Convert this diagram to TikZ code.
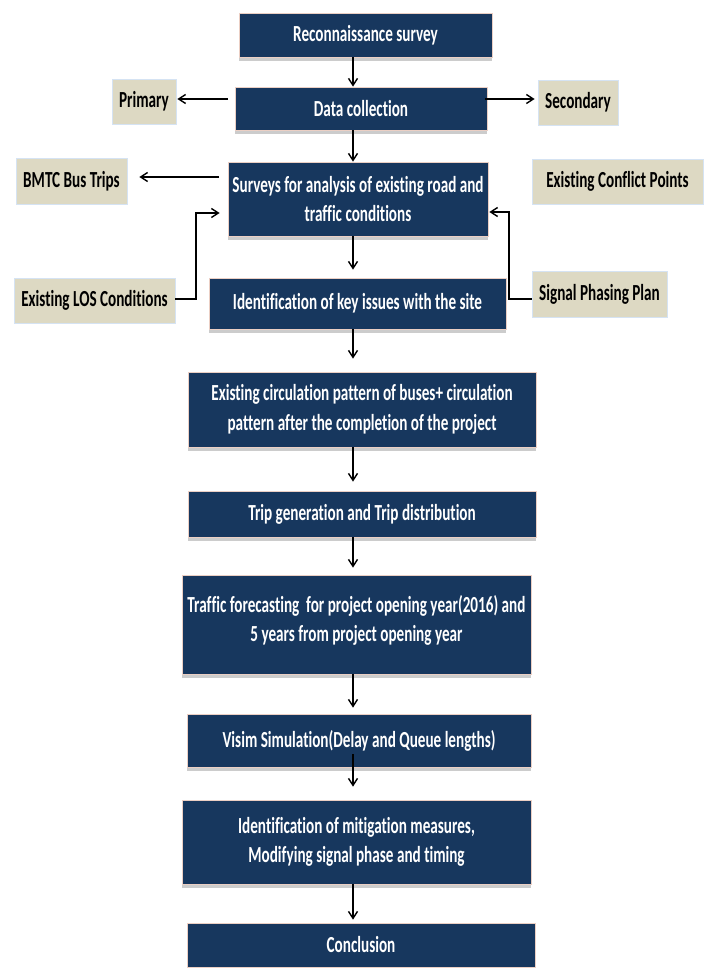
\documentclass[tikz,border=0pt]{standalone}
\usepackage{fontspec}
\newfontfamily\boxfont{Carlito}[FakeStretch=0.66,RawFeature={-liga}]
\usetikzlibrary{arrows.meta,shadows,calc}
\definecolor{navy}{HTML}{17375E}
\definecolor{beige}{HTML}{DDD9C3}
\definecolor{navyedge}{HTML}{EBCFC4}
\definecolor{beigeedge}{HTML}{D5E3F3}
\begin{document}
\begin{tikzpicture}[x=1pt,y=-1pt,
  boxfontstyle/.style={font=\boxfont\bfseries\fontsize{23}{29.5}\selectfont},
  navybox/.style={boxfontstyle, draw=navyedge, line width=0.7pt, fill=navy, text=white,
    inner sep=0pt, align=center,
    drop shadow={shadow xshift=0pt, shadow yshift=-4pt, fill=black!22, opacity=0.9}},
  navytext/.style={boxfontstyle, text=white, inner sep=0pt, align=center},
  beigebox/.style={boxfontstyle, draw=beigeedge, line width=0.7pt, fill=beige, text=black,
    inner sep=0pt, align=center},
  arr/.style={draw=black, line width=1.4pt,
    -{Straight Barb[length=7pt,width=9pt,line width=1.4pt]}}
  ]
\useasboundingbox[fill=white] (0,0) rectangle (708,968);

% main column
\node[navybox, minimum width=253pt, minimum height=44pt] (recon) at (365.5,35) {Reconnaissance survey};
\node[navybox, minimum width=252pt, minimum height=43pt] (dc) at (361,108.5) {Data collection};
\node[navybox, minimum width=260pt, minimum height=74pt] (surv) at (358,199) {Surveys for analysis of existing road and\\traffic conditions};
\node[navybox, minimum width=297pt, minimum height=51pt] (ident) at (357.5,303.5) {Identification of key issues with the site};
\node[navybox, minimum width=348pt, minimum height=75pt] (circ) at (362,409.5) {Existing circulation pattern of buses+ circulation\\pattern after the completion of the project};
\node[navybox, minimum width=348pt, minimum height=46pt] (trip) at (362,514) {Trip generation and Trip distribution};
\node[navybox, minimum width=349pt, minimum height=99pt] (traf) at (356.5,624.5) {};
\node[navytext] (traft) at ([yshift=4pt]traf.center) {Traffic forecasting\ \ for project opening year(2016) and\\5 years from project opening year};
\node[navybox, minimum width=344pt, minimum height=53pt] (visim) at (359,740.5) {Visim Simulation(Delay and Queue lengths)};
\node[navybox, minimum width=349pt, minimum height=84pt] (mitig) at (356.5,842) {Identification of mitigation measures,\\Modifying signal phase and timing};
\node[navybox, minimum width=348pt, minimum height=44pt] (concl) at (361,945) {Conclusion};

% side boxes
\node[beigebox, minimum width=64pt, minimum height=45pt] (prim) at (144,101.5) {Primary};
\node[beigebox, minimum width=80pt, minimum height=45pt] (sec) at (578,102.5) {Secondary};
\node[beigebox, minimum width=111pt, minimum height=46pt] (bmtc) at (71.5,181) {BMTC Bus Trips};
\node[beigebox, minimum width=171pt, minimum height=45pt] (confl) at (617.5,181.5) {Existing Conflict Points};
\node[beigebox, minimum width=161pt, minimum height=45pt] (los) at (94.5,300.5) {Existing LOS Conditions};
\node[beigebox, minimum width=135pt, minimum height=46pt] (sig) at (599.5,294) {Signal Phasing Plan};

% axis of the main arrows
\coordinate (ax) at (353,0);

\draw[arr] (recon.south -| ax) -- (dc.north -| ax);
\draw[arr] (dc.south -| ax) -- (surv.north -| ax);
\draw[arr, shorten >=8pt] (surv.south -| ax) -- (ident.north -| ax);
\draw[arr, shorten >=13pt] (ident.south -| ax) -- (circ.north -| ax);
\draw[arr, shorten >=9pt] (circ.south -| ax) -- (trip.north -| ax);
\draw[arr, shorten >=7pt] (trip.south -| ax) -- (traf.north -| ax);
\draw[arr, shorten >=6pt] (traf.south -| ax) -- (visim.north -| ax);
\draw[arr, shorten >=13pt] ([yshift=13pt]visim.south -| ax) -- (mitig.north -| ax);
\draw[arr, shorten >=3pt] (mitig.south -| ax) -- (concl.north -| ax);

% side arrows
\coordinate (dcl) at (228,99);
\coordinate (dcr) at (485,99);
\draw[arr, shorten >=1pt] (dcl) -- (dcl -| prim.east);
\draw[arr, shorten >=3pt] (dcr) -- (dcr -| sec.west);
\coordinate (svl) at (219,177);
\draw[arr, shorten >=12pt] (svl) -- (svl -| bmtc.east);
\coordinate (losk) at (196,299);
\coordinate (losu) at (196,213);
\draw[arr, shorten >=8pt] (los.east |- losk) -- (losk) -- (losu) -- (losu -| surv.west);
\coordinate (sigk) at (509,299);
\coordinate (sigu) at (509,212);
\draw[arr, shorten >=1pt] (sig.west |- sigk) -- (sigk) -- (sigu) -- (sigu -| surv.east);
\end{tikzpicture}
\end{document}
